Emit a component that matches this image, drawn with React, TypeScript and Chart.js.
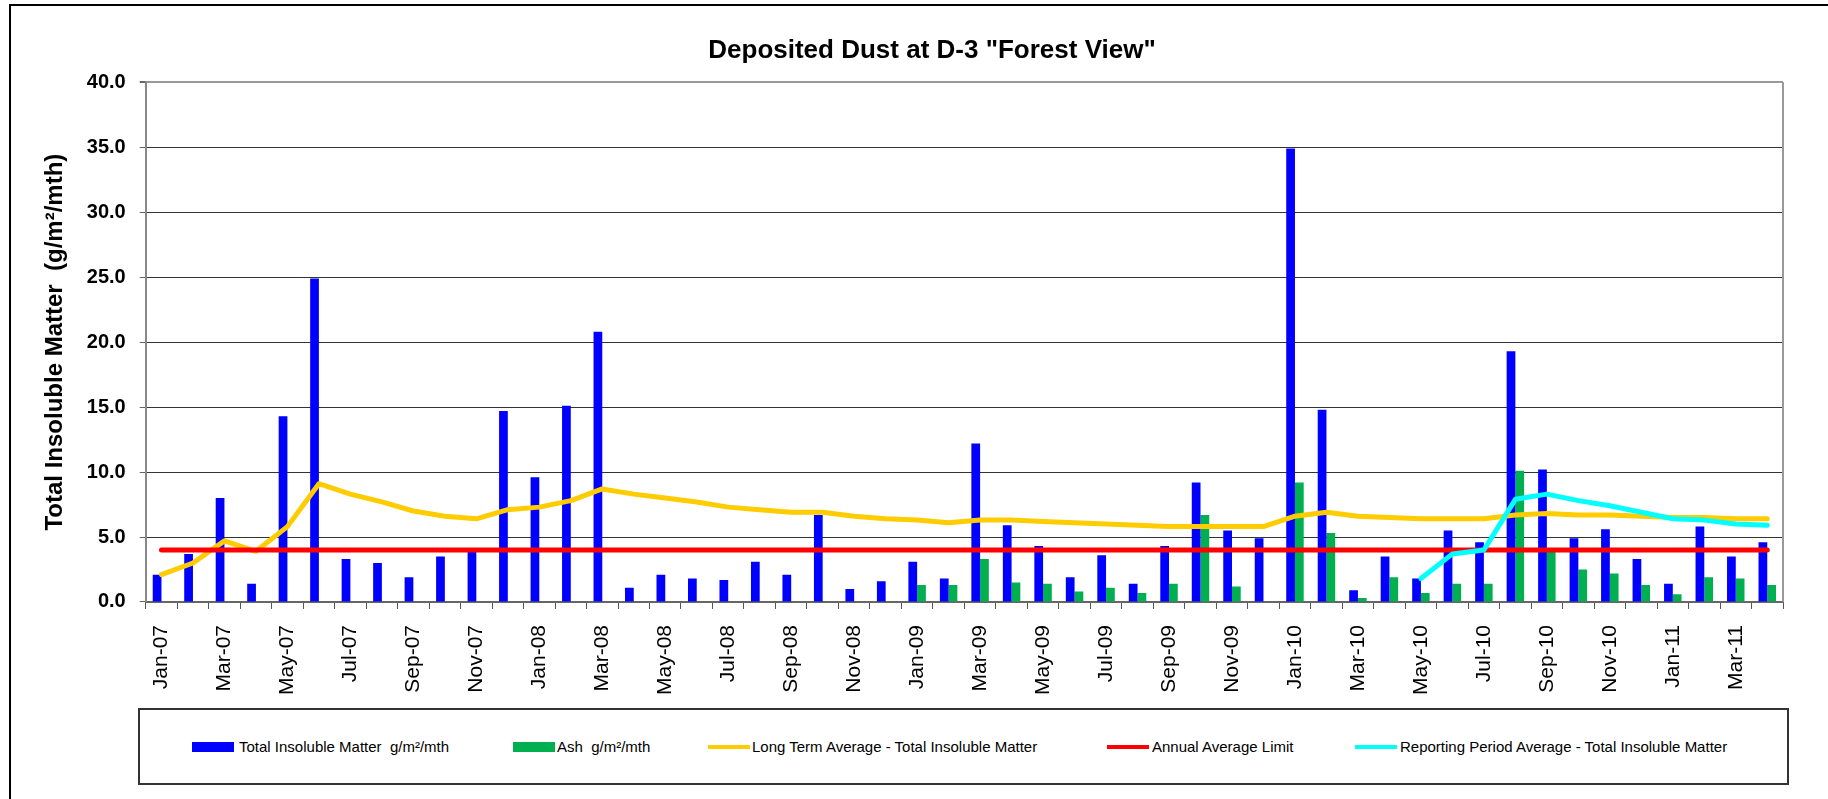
import React, { useEffect, useRef } from 'react';
import { Chart, registerables } from 'chart.js';

Chart.register(...registerables);

const FONT = '"Liberation Sans", Arial, Helvetica, sans-serif';

const months = [
  'Jan-07', 'Feb-07', 'Mar-07', 'Apr-07', 'May-07', 'Jun-07', 'Jul-07', 'Aug-07', 'Sep-07', 'Oct-07', 'Nov-07', 'Dec-07',
  'Jan-08', 'Feb-08', 'Mar-08', 'Apr-08', 'May-08', 'Jun-08', 'Jul-08', 'Aug-08', 'Sep-08', 'Oct-08', 'Nov-08', 'Dec-08',
  'Jan-09', 'Feb-09', 'Mar-09', 'Apr-09', 'May-09', 'Jun-09', 'Jul-09', 'Aug-09', 'Sep-09', 'Oct-09', 'Nov-09', 'Dec-09',
  'Jan-10', 'Feb-10', 'Mar-10', 'Apr-10', 'May-10', 'Jun-10', 'Jul-10', 'Aug-10', 'Sep-10', 'Oct-10', 'Nov-10', 'Dec-10',
  'Jan-11', 'Feb-11', 'Mar-11', 'Apr-11',
];

const totalInsoluble = [
  2.1, 3.7, 8.0, 1.4, 14.3, 24.9, 3.3, 3.0, 1.9, 3.5, 3.9, 14.7,
  9.6, 15.1, 20.8, 1.1, 2.1, 1.8, 1.7, 3.1, 2.1, 6.7, 1.0, 1.6,
  3.1, 1.8, 12.2, 5.9, 4.3, 1.9, 3.6, 1.4, 4.3, 9.2, 5.5, 4.9,
  34.9, 14.8, 0.9, 3.5, 1.8, 5.5, 4.6, 19.3, 10.2, 4.9, 5.6, 3.3,
  1.4, 5.8, 3.5, 4.6,
];

const ash = [
  null, null, null, null, null, null, null, null, null, null, null, null,
  null, null, null, null, null, null, null, null, null, null, null, null,
  1.3, 1.3, 3.3, 1.5, 1.4, 0.8, 1.1, 0.7, 1.4, 6.7, 1.2, null,
  9.2, 5.3, 0.3, 1.9, 0.7, 1.4, 1.4, 10.1, 3.9, 2.5, 2.2, 1.3,
  0.6, 1.9, 1.8, 1.3,
];

const longTermAverage = [
  2.1, 3.0, 4.7, 3.9, 5.8, 9.1, 8.3, 7.7, 7.0, 6.6, 6.4, 7.1,
  7.3, 7.8, 8.7, 8.3, 8.0, 7.7, 7.3, 7.1, 6.9, 6.9, 6.6, 6.4,
  6.3, 6.1, 6.3, 6.3, 6.2, 6.1, 6.0, 5.9, 5.8, 5.8, 5.8, 5.8,
  6.6, 6.9, 6.6, 6.5, 6.4, 6.4, 6.4, 6.7, 6.8, 6.7, 6.7, 6.6,
  6.5, 6.5, 6.4, 6.4,
];

const annualAverageLimit = [
  4.0, 4.0, 4.0, 4.0, 4.0, 4.0, 4.0, 4.0, 4.0, 4.0, 4.0, 4.0,
  4.0, 4.0, 4.0, 4.0, 4.0, 4.0, 4.0, 4.0, 4.0, 4.0, 4.0, 4.0,
  4.0, 4.0, 4.0, 4.0, 4.0, 4.0, 4.0, 4.0, 4.0, 4.0, 4.0, 4.0,
  4.0, 4.0, 4.0, 4.0, 4.0, 4.0, 4.0, 4.0, 4.0, 4.0, 4.0, 4.0,
  4.0, 4.0, 4.0, 4.0,
];

const reportingPeriodAverage = [
  null, null, null, null, null, null, null, null, null, null, null, null,
  null, null, null, null, null, null, null, null, null, null, null, null,
  null, null, null, null, null, null, null, null, null, null, null, null,
  null, null, null, null, 1.8, 3.7, 4.0, 7.9, 8.3, 7.8, 7.4, 6.9,
  6.4, 6.3, 6.0, 5.9,
];

const yTicks = [0, 5, 10, 15, 20, 25, 30, 35, 40];

const seriesNames = [
  'Total Insoluble Matter  g/m²/mth',
  'Ash  g/m²/mth',
  'Long Term Average - Total Insoluble Matter',
  'Annual Average Limit',
  'Reporting Period Average - Total Insoluble Matter',
];

const COLORS = {
  blue: '#0000FF',
  green: '#00B050',
  yellow: '#FFCC00',
  red: '#FF0000',
  cyan: '#00FFFF',
};

const plotBorder = {
  id: 'plotBorder',
  beforeDatasetsDraw(chart: any) {
    const { ctx, chartArea: a } = chart;
    ctx.save();
    ctx.strokeStyle = '#999999';
    ctx.lineWidth = 2;
    ctx.beginPath();
    ctx.moveTo(a.right, a.top);
    ctx.lineTo(a.right, a.bottom);
    ctx.stroke();
    ctx.restore();
  },
};

// shift the title block so it is centred like the reference
const titleShift = {
  id: 'titleShift',
  afterLayout(chart: any) {
    const t = chart.titleBlock;
    if (t) {
      t.left += 40;
    }
  },
};

const legendItems = [
  { kind: 'box', color: COLORS.blue, keyLeft: 192, textLeft: 239 },
  { kind: 'box', color: COLORS.green, keyLeft: 513, textLeft: 557 },
  { kind: 'line', color: COLORS.yellow, keyLeft: 708, textLeft: 752 },
  { kind: 'line', color: COLORS.red, keyLeft: 1107, textLeft: 1152 },
  { kind: 'line', color: COLORS.cyan, keyLeft: 1355, textLeft: 1400 },
];

export default function App() {
  const ref = useRef<HTMLCanvasElement>(null);

  useEffect(() => {
    if (!ref.current) return;
    const chart = new Chart(ref.current, {
      type: 'bar',
      data: {
        labels: months,
        datasets: [
          {
            type: 'bar',
            label: seriesNames[0],
            data: totalInsoluble,
            backgroundColor: COLORS.blue,
            borderWidth: 0,
            order: 10,
          },
          {
            type: 'bar',
            label: seriesNames[1],
            data: ash as any,
            backgroundColor: COLORS.green,
            borderWidth: 0,
            order: 10,
          },
          {
            type: 'line',
            label: seriesNames[2],
            data: longTermAverage,
            borderColor: COLORS.yellow,
            backgroundColor: COLORS.yellow,
            borderWidth: 5,
            pointRadius: 0,
            tension: 0,
            borderCapStyle: 'round',
            borderJoinStyle: 'round',
            order: 3,
          },
          {
            type: 'line',
            label: seriesNames[3],
            data: annualAverageLimit,
            borderColor: COLORS.red,
            backgroundColor: COLORS.red,
            borderWidth: 5,
            pointRadius: 0,
            tension: 0,
            borderCapStyle: 'round',
            order: 2,
          },
          {
            type: 'line',
            label: seriesNames[4],
            data: reportingPeriodAverage as any,
            borderColor: COLORS.cyan,
            backgroundColor: COLORS.cyan,
            borderWidth: 5,
            pointRadius: 0,
            tension: 0,
            borderCapStyle: 'round',
            borderJoinStyle: 'round',
            order: 1,
          },
        ],
      },
      options: {
        responsive: false,
        animation: false,
        datasets: {
          bar: { categoryPercentage: 0.555, barPercentage: 1.0 },
        },
        layout: { padding: { left: 41, right: 45, top: 0, bottom: 88 } },
        plugins: {
          legend: { display: false },
          tooltip: { enabled: false },
          title: {
            display: true,
            text: 'Deposited Dust at D-3 "Forest View"',
            color: '#000',
            font: { size: 26, weight: 'bold', family: FONT },
            padding: { top: 35, bottom: 16 },
          },
        },
        scales: {
          x: {
            offset: true,
            grid: {
              display: true,
              drawOnChartArea: false,
              drawTicks: true,
              tickLength: 7,
              color: '#555555',
              offset: true,
            },
            border: { display: true, color: '#666666', width: 2 },
            ticks: {
              autoSkip: false,
              maxRotation: 90,
              minRotation: 90,
              padding: 16,
              color: '#000',
              font: { size: 21, family: FONT },
              callback: (_v: any, i: number) => (i % 2 === 0 ? months[i] : ''),
            },
          },
          y: {
            min: yTicks[0],
            max: yTicks[yTicks.length - 1],
            afterBuildTicks: (scale: any) => {
              scale.ticks = yTicks.map((v) => ({ value: v }));
            },
            ticks: {
              padding: 14,
              color: '#000',
              font: { size: 20, weight: 'bold', family: FONT },
              callback: (v: any) => Number(v).toFixed(1),
            },
            grid: {
              color: (ctx: any) => (ctx.tick && ctx.tick.value === 40 ? '#999999' : '#333333'),
              lineWidth: (ctx: any) => (ctx.tick && ctx.tick.value === 40 ? 2 : 1),
              tickLength: 6,
              tickColor: '#666666',
            },
            border: { color: '#888888', width: 2 },
            title: {
              display: true,
              text: 'Total Insoluble Matter  (g/m²/mth)',
              color: '#000',
              font: { size: 24, weight: 'bold', family: FONT },
              padding: { top: 0, bottom: 3 },
            },
          },
        },
      },
      plugins: [plotBorder, titleShift],
    } as any);
    return () => chart.destroy();
  }, []);

  return (
    <div
      style={{
        position: 'absolute',
        left: 0,
        top: 0,
        width: 1828,
        height: 799,
        overflow: 'hidden',
        background: '#fff',
      }}
    >
      <canvas
        ref={ref}
        width={1828}
        height={799}
        style={{ position: 'absolute', left: 0, top: 0, width: 1828, height: 799 }}
      />
      <div
        style={{
          position: 'absolute',
          left: 9,
          top: 4,
          width: 1900,
          height: 900,
          borderLeft: '2px solid #000',
          borderTop: '2px solid #000',
          pointerEvents: 'none',
        }}
      />
      <div
        style={{
          position: 'absolute',
          left: 138,
          top: 708,
          width: 1651,
          height: 77,
          boxSizing: 'border-box',
          border: '2px solid #333',
          background: '#fff',
        }}
      />
      {legendItems.map((it, i) => (
        <React.Fragment key={i}>
          <div
            style={{
              position: 'absolute',
              left: it.keyLeft,
              top: it.kind === 'box' ? 742 : 745,
              width: 42,
              height: it.kind === 'box' ? 10 : 4,
              background: it.color,
            }}
          />
          <div
            style={{
              position: 'absolute',
              left: it.textLeft,
              top: 737,
              height: 20,
              lineHeight: '20px',
              fontFamily: FONT,
              fontSize: 15,
              color: '#000',
              whiteSpace: 'pre',
            }}
          >
            {seriesNames[i]}
          </div>
        </React.Fragment>
      ))}
    </div>
  );
}
